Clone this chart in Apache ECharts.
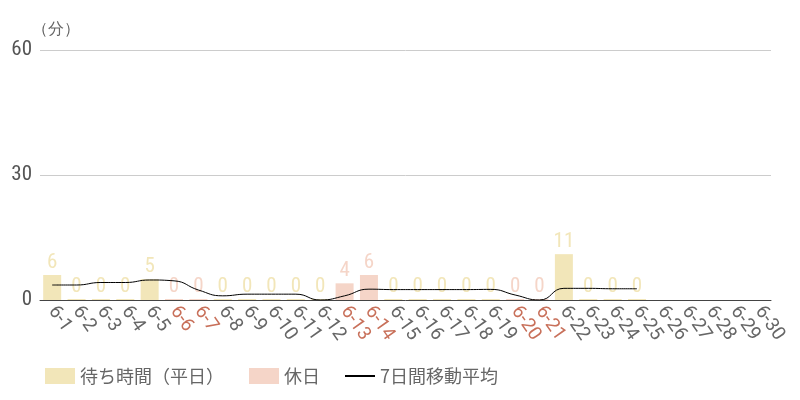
<!DOCTYPE html>
<html>
<head>
<meta charset="utf-8">
<script src="https://cdn.jsdelivr.net/npm/echarts@6/dist/echarts.min.js"></script>
<style>
  html, body { margin: 0; padding: 0; background: #fff; }
  #chart { width: 800px; height: 400px; }
</style>
</head>
<body>
<div id="chart"></div>
<script>
// 日付 (6月)
var days = ['6-1','6-2','6-3','6-4','6-5','6-6','6-7','6-8','6-9','6-10',
  '6-11','6-12','6-13','6-14','6-15','6-16','6-17','6-18','6-19','6-20',
  '6-21','6-22','6-23','6-24','6-25','6-26','6-27','6-28','6-29','6-30'];
// 休日
var holidays = ['6-6','6-7','6-13','6-14','6-20','6-21'];
// 待ち時間 (分) - 6-25 まで
var waitTimes = [6,0,0,0,5,0,0,0,0,0,0,0,4,6,0,0,0,0,0,0,0,11,0,0,0];
// 7日間移動平均
var movingAvg = [3.6,3.6,4.2,4.2,4.8,4.6,2.4,1.0,1.4,1.4,1.4,0,1.0,2.6,2.5,
  2.5,2.5,2.5,2.55,1.2,0,2.8,2.8,2.7,2.7];
var yTicks = [0, 30, 60];

var weekdayColor = '#f2e6b9';
var holidayColor = '#f5d5c8';
var narrowFont = '"Roboto Condensed", "Liberation Sans Narrow", "DejaVu Sans Condensed", Roboto';

var weekdayData = [];
var holidayData = [];
for (var i = 0; i < days.length; i++) {
  var v = i < waitTimes.length ? waitTimes[i] : '-';
  if (holidays.indexOf(days[i]) >= 0) {
    holidayData.push(v);
    weekdayData.push('-');
  } else {
    weekdayData.push(v);
    holidayData.push('-');
  }
}

var chart = echarts.init(document.getElementById('chart'));
var labelStyle = {
  show: true,
  position: 'top',
  distance: 2,
  fontFamily: narrowFont,
  fontSize: 21
};
var option = {
  animation: false,
  grid: { left: 40, right: 29, top: 50, bottom: 100 },
  legend: {
    left: 40,
    bottom: 10,
    itemWidth: 30,
    itemHeight: 16,
    itemGap: 25,
    textStyle: { fontSize: 18, color: '#666', fontFamily: 'Noto Sans CJK JP' },
    data: [
      { name: '待ち時間（平日）', icon: 'rect' },
      { name: '休日', icon: 'rect' },
      { name: '7日間移動平均', icon: 'path://M0 0H30V2H0Z' }
    ]
  },
  xAxis: {
    type: 'category',
    data: days,
    axisTick: { show: false },
    axisLine: { lineStyle: { color: '#444', width: 1 } },
    axisLabel: {
      interval: 0,
      rotate: -55,
      margin: 8,
      fontSize: 19,
      fontFamily: 'Roboto',
      color: function (val) {
        return holidays.indexOf(val) >= 0 ? '#c8705a' : '#666';
      }
    }
  },
  yAxis: {
    type: 'value',
    min: yTicks[0],
    max: yTicks[yTicks.length - 1],
    interval: 30,
    name: '（分）',
    nameGap: 12,
    nameTextStyle: { fontSize: 16, color: '#666', align: 'left', padding: [0, 0, 0, -8] },
    axisLabel: { fontSize: 21, color: '#555', fontFamily: narrowFont, margin: 8 },
    splitLine: { lineStyle: { color: '#ccc' } },
    axisLine: { show: false },
    axisTick: { show: false }
  },
  series: [
    {
      name: '待ち時間（平日）',
      type: 'bar',
      stack: 'wait',
      barWidth: 18,
      barMinHeight: 1,
      data: weekdayData,
      itemStyle: { color: weekdayColor },
      label: Object.assign({ color: weekdayColor }, labelStyle)
    },
    {
      name: '休日',
      type: 'bar',
      stack: 'wait',
      barWidth: 18,
      barMinHeight: 1,
      data: holidayData,
      itemStyle: { color: holidayColor },
      label: Object.assign({ color: holidayColor }, labelStyle)
    },
    {
      name: '7日間移動平均',
      type: 'line',
      smooth: true,
      showSymbol: false,
      data: movingAvg,
      itemStyle: { color: '#000' },
      lineStyle: { color: '#000', width: 1 },
      z: 5
    }
  ]
};
chart.setOption(option);
</script>
</body>
</html>
